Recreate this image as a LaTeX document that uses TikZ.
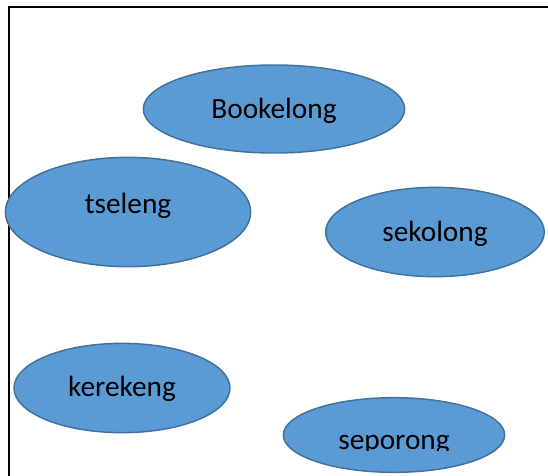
\documentclass[tikz,border=0pt]{standalone}
\usepackage{fontspec}
\setmainfont{Carlito}
\usetikzlibrary{shapes.geometric}
\definecolor{fillblue}{HTML}{5B9BD5}
\definecolor{edgeblue}{HTML}{41719C}
\tikzset{
  blob/.style={ellipse, draw=edgeblue, fill=fillblue, line width=1.1pt, inner sep=0pt},
  word/.style={anchor=base, font=\fontsize{22}{26}\selectfont, inner sep=0pt}
}

\begin{document}
\begin{tikzpicture}[x=0.75pt,y=-0.75pt]
  \useasboundingbox (0,0) rectangle (548,475);

  % frame
  \draw[line width=1.9pt] (9,478) -- (9,7) -- (551,7);

  % ellipses
  \node[blob, minimum width=196pt, minimum height=66pt] (bookelong) at (274,109) {};
  \node[blob, minimum width=184pt, minimum height=82pt] (tseleng) at (128,212) {};
  \node[blob, minimum width=164pt, minimum height=67pt] (sekolong) at (435,232) {};
  \node[blob, minimum width=162pt, minimum height=67pt] (kerekeng) at (122,388) {};
  \node[blob, minimum width=166pt, minimum height=56pt] (seporong) at (394,435) {};

  % labels
  \node[word] (bookelongtext) at (274,118) {Bookelong};
  \node[word] (tselengtext) at (128,213) {tseleng};
  \node[word] (sekolongtext) at (435,241) {sekolong};
  \node[word] (kerekengtext) at (122,396) {kerekeng};
  \begin{scope}
    \clip (283,398) rectangle (505,450);
    \node[word] (seporongtext) at (394,449) {seporong};
  \end{scope}
\end{tikzpicture}
\end{document}
